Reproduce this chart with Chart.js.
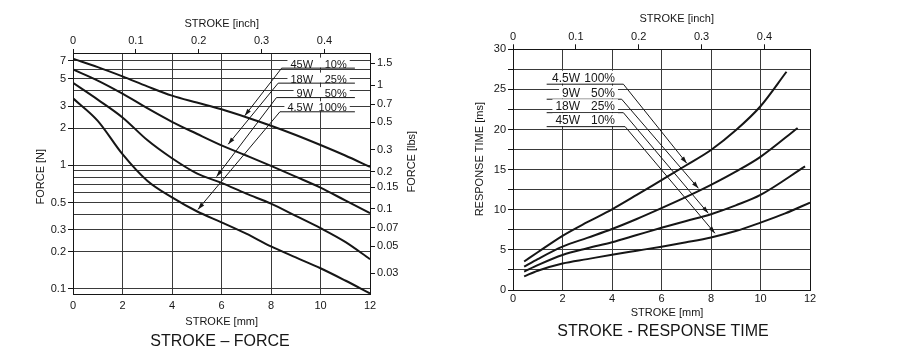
<!DOCTYPE html>
<html>
<head>
<meta charset="utf-8">
<script src="https://cdn.jsdelivr.net/npm/chart.js@4.4.1/dist/chart.umd.min.js"></script>
<style>
  html, body { margin: 0; padding: 0; background: #fff; }
  body { width: 900px; height: 364px; position: relative; overflow: hidden; }
  .box { position: absolute; top: 0; height: 364px; }
  #forceBox { left: 0; width: 440px; }
  #timeBox { left: 440px; width: 446px; }
</style>
</head>
<body>
<div class="box" id="forceBox"><canvas id="forceChart"></canvas></div>
<div class="box" id="timeBox"><canvas id="timeChart"></canvas></div>
<script>
// ---- STROKE - FORCE data (stroke in mm, force in N) ----
const forceStroke = [0, 1, 2, 3, 4, 5, 6, 7, 8, 9, 10, 11, 12];
const force45W = [7.27, 6.23, 5.24, 4.35, 3.66, 3.22, 2.84, 2.45, 2.09, 1.76, 1.46, 1.2, 0.97];
const force18W = [5.96, 4.85, 3.8, 2.9, 2.25, 1.8, 1.45, 1.2, 0.99, 0.81, 0.66, 0.52, 0.41];
const force9W = [4.64, 3.4, 2.44, 1.6, 1.14, 0.86, 0.72, 0.59, 0.49, 0.39, 0.31, 0.24, 0.174];
const force4W = [3.48, 2.29, 1.23, 0.75, 0.55, 0.425, 0.346, 0.28, 0.221, 0.18, 0.147, 0.117, 0.092];

const forceTicksN = [0.1, 0.2, 0.3, 0.4, 0.5, 0.6, 0.7, 0.8, 0.9, 1, 2, 3, 4, 5, 6, 7];
const forceLabelsN = [0.1, 0.2, 0.3, 0.5, 1, 2, 3, 5, 7];
const forceTicksLbs = [0.03, 0.05, 0.07, 0.1, 0.15, 0.2, 0.3, 0.5, 0.7, 1, 1.5];
const inchTicks = [0, 0.1, 0.2, 0.3, 0.4];
const N_PER_LBS = 4.448;
const MM_PER_INCH = 25.4;

// ---- STROKE - RESPONSE TIME data (stroke in mm, time in ms) ----
const time4WStroke = [0.45, 1, 2, 3, 4, 5, 6, 7, 8, 9, 10, 11.05];
const time4W = [3.55, 4.7, 6.75, 8.45, 10.05, 11.85, 13.7, 15.55, 17.45, 19.9, 22.9, 27.2];
const time9WStroke = [0.45, 1, 2, 3, 4, 5, 6, 7, 8, 9, 10, 11.5];
const time9W = [2.9, 3.85, 5.4, 6.5, 7.6, 8.85, 10.2, 11.6, 13.1, 14.75, 16.6, 20.2];
const time18WStroke = [0.45, 1, 2, 3, 4, 5, 6, 7, 8, 9, 10, 11.8];
const time18W = [2.3, 3.1, 4.36, 5.2, 5.95, 6.85, 7.75, 8.6, 9.45, 10.55, 11.85, 15.4];
const time45WStroke = [0.45, 1, 2, 3, 4, 5, 6, 7, 8, 9, 10, 11, 12];
const time45W = [1.7, 2.4, 3.3, 3.85, 4.4, 4.9, 5.4, 5.95, 6.55, 7.35, 8.4, 9.55, 10.9];

// Curve labels with leader arrows (data units: mm / N, mm / ms)
const forceCallouts = [
  { watt: '45W', pct: '10%', lineY: 6.11, corner: 8.43, end: 11.39, tipX: 6.94, tipY: 2.52 },
  { watt: '18W', pct: '25%', lineY: 4.62, corner: 8.29, end: 11.39, tipX: 6.27, tipY: 1.48 },
  { watt: '9W', pct: '50%', lineY: 3.53, corner: 8.22, end: 11.39, tipX: 5.8, tipY: 0.81 },
  { watt: '4.5W', pct: '100%', lineY: 2.71, corner: 8.36, end: 11.39, tipX: 5.05, tipY: 0.44 }
];
const timeCallouts = [
  { watt: '4.5W', pct: '100%', lineY: 25.65, start: 1.36, corner: 4.46, tipX: 7.02, tipY: 15.8 },
  { watt: '9W', pct: '50%', lineY: 23.78, start: 1.36, corner: 4.39, tipX: 7.49, tipY: 12.68 },
  { watt: '18W', pct: '25%', lineY: 22.1, start: 1.36, corner: 4.46, tipX: 7.89, tipY: 9.56 },
  { watt: '45W', pct: '10%', lineY: 20.36, start: 1.36, corner: 4.53, tipX: 8.16, tipY: 7.07 }
];

const INK = '#161616';
const GRID = '#3a3a3a';
const FONT = '"Liberation Sans", Arial, sans-serif';

Chart.defaults.font.family = FONT;
Chart.defaults.color = INK;

function toPoints(xs, ys) {
  return xs.map((x, i) => ({ x: x, y: ys[i] }));
}

function curve(xs, ys) {
  return {
    data: toPoints(xs, ys),
    borderColor: INK,
    borderWidth: 2,
    pointRadius: 0,
    tension: 0.4,
    cubicInterpolationMode: 'monotone'
  };
}

function fixSize(size) {
  return function(scale) {
    if (scale.isHorizontal()) scale.height = size;
    else scale.width = size;
  };
}

// Draws the "45W 10%" style labels with their leader lines and arrows
const calloutPlugin = {
  id: 'callouts',
  afterDatasetsDraw(chart, args, opts) {
    const ctx = chart.ctx;
    const x = chart.scales.x, y = chart.scales.y;
    ctx.save();
    ctx.font = opts.font;
    ctx.textBaseline = 'alphabetic';
    opts.items.forEach(it => {
      const ly = y.getPixelForValue(it.lineY);
      const wx = x.getPixelForValue(opts.wattX);
      const px = x.getPixelForValue(opts.pctX);
      const base = ly - opts.gap;
      const left = wx - ctx.measureText(it.watt).width;
      ctx.fillStyle = '#fff';
      ctx.fillRect(left - 3, base - opts.cap - 2, px - left + 6, opts.cap + 2 + opts.gap - 0.5);
      ctx.fillStyle = INK;
      ctx.textAlign = 'right';
      ctx.fillText(it.watt, wx, base);
      ctx.fillText(it.pct, px, base);

      const x0 = x.getPixelForValue(it.start !== undefined ? it.start : it.corner);
      const x1 = x.getPixelForValue(it.end !== undefined ? it.end : it.corner);
      const cx = x.getPixelForValue(it.corner);
      const tx = x.getPixelForValue(it.tipX), ty = y.getPixelForValue(it.tipY);
      ctx.strokeStyle = INK;
      ctx.lineWidth = 1;
      ctx.beginPath();
      ctx.moveTo(x0, ly);
      ctx.lineTo(x1, ly);
      ctx.moveTo(cx, ly);
      ctx.lineTo(tx, ty);
      ctx.stroke();
      // arrow head
      const a = Math.atan2(ty - ly, tx - cx);
      ctx.beginPath();
      ctx.moveTo(tx, ty);
      ctx.lineTo(tx - 7 * Math.cos(a) + 2.2 * Math.sin(a), ty - 7 * Math.sin(a) - 2.2 * Math.cos(a));
      ctx.lineTo(tx - 7 * Math.cos(a) - 2.2 * Math.sin(a), ty - 7 * Math.sin(a) + 2.2 * Math.cos(a));
      ctx.closePath();
      ctx.fill();
    });
    ctx.restore();
  }
};

// Axis titles placed where the printed chart has them
const axisTextPlugin = {
  id: 'axisText',
  afterDraw(chart, args, opts) {
    const ctx = chart.ctx;
    ctx.save();
    ctx.fillStyle = INK;
    ctx.textAlign = 'center';
    ctx.textBaseline = 'middle';
    opts.items.forEach(t => {
      ctx.save();
      ctx.translate(t.x, t.y);
      ctx.rotate((t.rot || 0) * Math.PI / 180);
      ctx.font = '11px ' + FONT;
      ctx.fillText(t.text, 0, 0);
      ctx.restore();
    });
    ctx.restore();
  }
};

const tickFont = { size: 11 };

// ---- Left chart: STROKE - FORCE ----
new Chart(document.getElementById('forceChart'), {
  type: 'line',
  data: {
    datasets: [
      curve(forceStroke, force45W),
      curve(forceStroke, force18W),
      curve(forceStroke, force9W),
      curve(forceStroke, force4W)
    ]
  },
  plugins: [calloutPlugin, axisTextPlugin],
  options: {
    responsive: true,
    maintainAspectRatio: false,
    animation: false,
    layout: { padding: 0 },
    plugins: {
      legend: { display: false },
      tooltip: { enabled: false },
      title: {
        display: true,
        position: 'bottom',
        text: 'STROKE – FORCE',
        color: INK,
        font: { size: 16, weight: 'normal' },
        padding: { top: 0, bottom: 12.4 }
      },
      callouts: { items: forceCallouts, font: '11px ' + FONT, wattX: 9.7, pctX: 11.06, gap: 0.5, cap: 8 },
      axisText: {
        items: [
          { text: 'STROKE [inch]', x: 221.7, y: 24 },
          { text: 'STROKE [mm]', x: 221.7, y: 322 },
          { text: 'FORCE [N]', x: 40.8, y: 176.7, rot: -90 },
          { text: 'FORCE [lbs]', x: 411.7, y: 161.7, rot: -90 }
        ]
      }
    },
    scales: {
      x: {
        type: 'linear', position: 'bottom', min: 0, max: 12,
        afterFit: fixSize(38.4),
        ticks: { stepSize: 2, font: tickFont, padding: 5, color: INK },
        grid: { color: GRID, drawTicks: false },
        border: { color: INK }
      },
      xTop: {
        type: 'linear', position: 'top', min: 0, max: 12 / MM_PER_INCH,
        afterFit: fixSize(53),
        afterBuildTicks: s => { s.ticks = inchTicks.map(v => ({ value: v })); },
        ticks: { font: tickFont, padding: 1, color: INK, callback: v => v === 0 ? '0' : v.toFixed(1) },
        grid: { drawOnChartArea: false, tickLength: 4, tickColor: INK },
        border: { color: INK }
      },
      y: {
        type: 'logarithmic', position: 'left', min: 0.091, max: 8.1,
        afterFit: fixSize(73),
        afterBuildTicks: s => { s.ticks = forceTicksN.map(v => ({ value: v })); },
        ticks: {
          font: tickFont, padding: 2, color: INK, autoSkip: false,
          callback: v => forceLabelsN.includes(v) ? String(v) : ''
        },
        grid: {
          color: GRID, tickLength: 5,
          tickColor: c => (c.tick && forceLabelsN.includes(c.tick.value)) ? INK : 'rgba(0,0,0,0)'
        },
        border: { color: INK }
      },
      yR: {
        type: 'logarithmic', position: 'right', min: 0.091 / N_PER_LBS, max: 8.1 / N_PER_LBS,
        afterFit: fixSize(70),
        afterBuildTicks: s => { s.ticks = forceTicksLbs.map(v => ({ value: v })); },
        ticks: { font: tickFont, padding: 2, color: INK, autoSkip: false, callback: v => String(v) },
        grid: { drawOnChartArea: false, tickLength: 5, tickColor: INK },
        border: { color: INK }
      }
    }
  }
});

// ---- Right chart: STROKE - RESPONSE TIME ----
new Chart(document.getElementById('timeChart'), {
  type: 'line',
  data: {
    datasets: [
      curve(time4WStroke, time4W),
      curve(time9WStroke, time9W),
      curve(time18WStroke, time18W),
      curve(time45WStroke, time45W)
    ]
  },
  plugins: [calloutPlugin, axisTextPlugin],
  options: {
    responsive: true,
    maintainAspectRatio: false,
    animation: false,
    layout: { padding: 0 },
    plugins: {
      legend: { display: false },
      tooltip: { enabled: false },
      title: {
        display: true,
        position: 'bottom',
        text: 'STROKE - RESPONSE TIME',
        color: INK,
        font: { size: 16, weight: 'normal' },
        padding: { top: 0, bottom: 22.7 }
      },
      callouts: { items: timeCallouts, font: '12px ' + FONT, wattX: 2.71, pctX: 4.12, gap: 2.5, cap: 9 },
      axisText: {
        items: [
          { text: 'STROKE [inch]', x: 236.7, y: 19 },
          { text: 'STROKE [mm]', x: 227, y: 313.3 },
          { text: 'RESPONSE TIME [ms]', x: 40, y: 159.2, rot: -90 }
        ]
      }
    },
    scales: {
      x: {
        type: 'linear', position: 'bottom', min: 0, max: 12,
        afterFit: fixSize(32.1),
        ticks: { stepSize: 2, font: tickFont, padding: 2, color: INK },
        grid: { color: GRID, drawTicks: false },
        border: { color: INK }
      },
      xTop: {
        type: 'linear', position: 'top', min: 0, max: 12 / MM_PER_INCH,
        afterFit: fixSize(49.3),
        afterBuildTicks: s => { s.ticks = inchTicks.map(v => ({ value: v })); },
        ticks: { font: tickFont, padding: 1, color: INK, callback: v => v === 0 ? '0' : v.toFixed(1) },
        grid: { drawOnChartArea: false, tickLength: 5, tickColor: INK },
        border: { color: INK }
      },
      y: {
        type: 'linear', position: 'left', min: 0, max: 30,
        afterFit: fixSize(73),
        ticks: { stepSize: 2.5, font: tickFont, padding: 2, color: INK, autoSkip: false,
          callback: v => v % 5 === 0 ? String(v) : '' },
        grid: { color: GRID, tickLength: 5, tickColor: INK },
        border: { color: INK }
      },
      yR: {
        type: 'linear', position: 'right', min: 0, max: 30,
        afterFit: fixSize(76),
        ticks: { display: false },
        grid: { drawOnChartArea: false, drawTicks: false },
        border: { color: INK }
      }
    }
  }
});
</script>
</body>
</html>
